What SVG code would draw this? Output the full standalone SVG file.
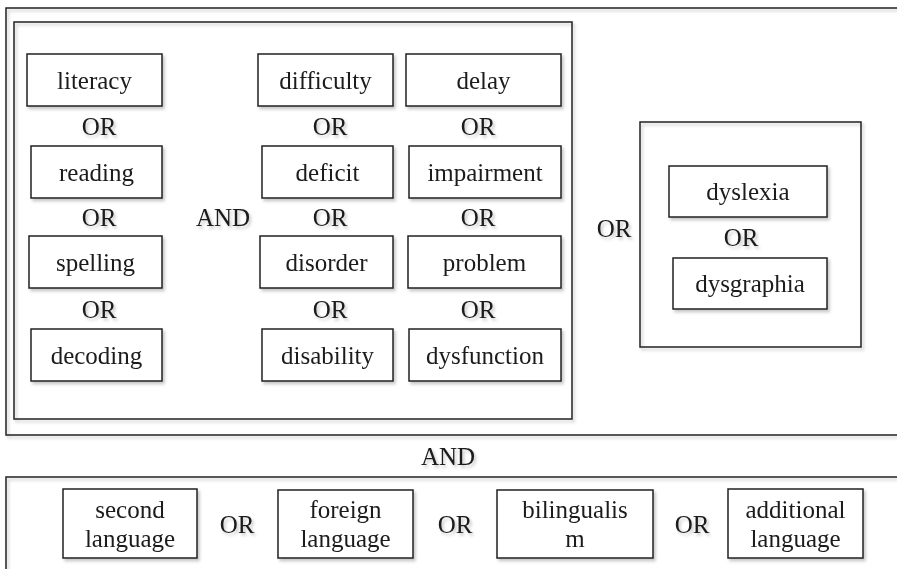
<svg xmlns="http://www.w3.org/2000/svg" width="897" height="569" viewBox="0 0 897 569">
<defs>
<filter id="sh" x="-10%" y="-10%" width="130%" height="130%">
<feDropShadow dx="2" dy="2.5" stdDeviation="1.6" flood-color="#000" flood-opacity="0.22"/>
</filter>
</defs>
<style>
rect{fill:none;stroke:#222;stroke-width:1.5}
rect.bg{fill:#fff;stroke:none}
.b{fill:#fff}
text{font-family:"Liberation Serif","Times New Roman",serif;font-size:25px;fill:#1a1a1a;text-anchor:middle}
.s{filter:url(#sh)}
</style>
<rect class="bg" x="0" y="0" width="897" height="569"/>
<g class="s">
<g id="group-main">
<rect x="6" y="8" width="900" height="427"/>
<rect x="14" y="22" width="558" height="397"/>
</g>
<g id="group-dys">
<rect x="640" y="122" width="221" height="225"/>
</g>
<g id="group-lang">
<rect x="6" y="477" width="900" height="100"/>
</g>

<g id="n-literacy"><rect class="b" x="27" y="54" width="135" height="52"/><text x="94.5" y="89">literacy</text></g>
<g id="n-reading"><rect class="b" x="31" y="146" width="131" height="52"/><text x="96.5" y="181">reading</text></g>
<g id="n-spelling"><rect class="b" x="29" y="236" width="133" height="52"/><text x="95.5" y="271">spelling</text></g>
<g id="n-decoding"><rect class="b" x="31" y="329" width="131" height="52"/><text x="96.5" y="364">decoding</text></g>

<g id="n-difficulty"><rect class="b" x="258" y="54" width="135" height="52"/><text x="325.5" y="89">difficulty</text></g>
<g id="n-deficit"><rect class="b" x="262" y="146" width="131" height="52"/><text x="327.5" y="181">deficit</text></g>
<g id="n-disorder"><rect class="b" x="260" y="236" width="133" height="52"/><text x="326.5" y="271">disorder</text></g>
<g id="n-disability"><rect class="b" x="262" y="329" width="131" height="52"/><text x="327.5" y="364">disability</text></g>

<g id="n-delay"><rect class="b" x="406" y="54" width="155" height="52"/><text x="483.5" y="89">delay</text></g>
<g id="n-impairment"><rect class="b" x="409" y="146" width="152" height="52"/><text x="485" y="181">impairment</text></g>
<g id="n-problem"><rect class="b" x="408" y="236" width="153" height="52"/><text x="484.5" y="271">problem</text></g>
<g id="n-dysfunction"><rect class="b" x="409" y="329" width="152" height="52"/><text x="485" y="364">dysfunction</text></g>

<g id="n-dyslexia"><rect class="b" x="669" y="166" width="158" height="51"/><text x="748" y="200">dyslexia</text></g>
<g id="n-dysgraphia"><rect class="b" x="673" y="258" width="154" height="51"/><text x="750" y="292">dysgraphia</text></g>

<g id="n-second"><rect class="b" x="63" y="489" width="134" height="69"/><text x="130" y="518">second</text><text x="130" y="547">language</text></g>
<g id="n-foreign"><rect class="b" x="278" y="490" width="135" height="68"/><text x="345.5" y="518">foreign</text><text x="345.5" y="547">language</text></g>
<g id="n-bilingualism"><rect class="b" x="497" y="490" width="156" height="68"/><text x="575" y="518">bilingualis</text><text x="575" y="547">m</text></g>
<g id="n-additional"><rect class="b" x="728" y="489" width="135" height="69"/><text x="795.5" y="518">additional</text><text x="795.5" y="547">language</text></g>

<g id="labels">
<text x="99" y="135">OR</text>
<text x="99" y="226">OR</text>
<text x="99" y="318">OR</text>
<text x="330" y="135">OR</text>
<text x="330" y="226">OR</text>
<text x="330" y="318">OR</text>
<text x="478" y="135">OR</text>
<text x="478" y="226">OR</text>
<text x="478" y="318">OR</text>
<text x="223" y="226">AND</text>
<text x="614" y="237">OR</text>
<text x="741" y="246">OR</text>
<text x="448" y="465">AND</text>
<text x="237" y="533">OR</text>
<text x="455" y="533">OR</text>
<text x="692" y="533">OR</text>
</g>
</g>
<g id="connectors"/>
</svg>
